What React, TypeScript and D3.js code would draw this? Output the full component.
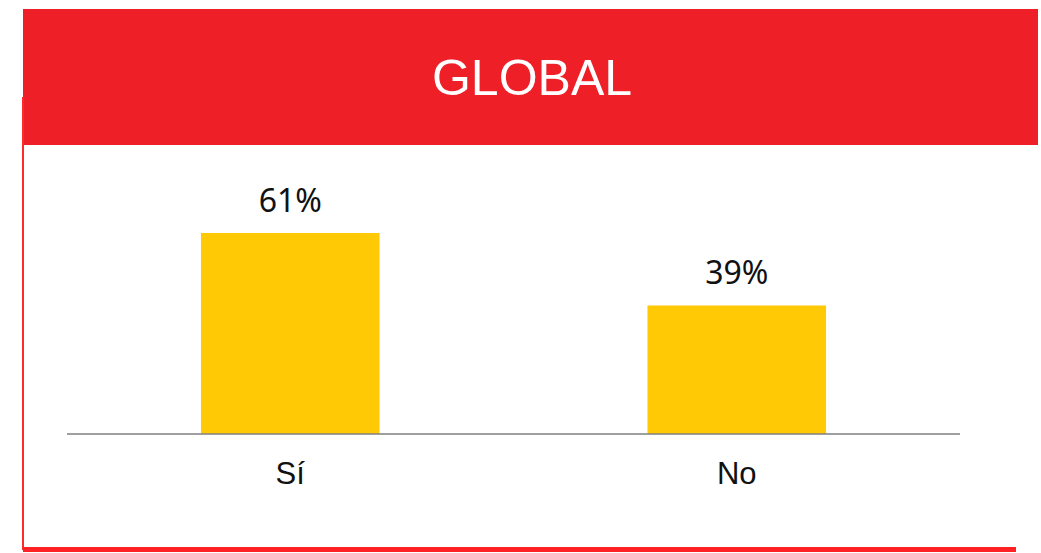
import React from "react";
import * as d3 from "d3";

const categories = ["Sí", "No"];
const values = [61, 39];
const valueLabels = ["61%", "39%"];
const title = "GLOBAL";

export default function App() {
  const W = 1041, H = 553;
  const x = d3.scaleBand<string>().domain(categories).range([67, 960]).paddingInner(0.6).paddingOuter(0.3);
  const y = d3.scaleLinear().domain([0, 61]).range([434, 233]);
  return (
    <svg width={W} height={H} style={{ position: "absolute", left: 0, top: 0 }}>
      <rect x={0} y={0} width={W} height={H} fill="#fff" />
      <rect x={23} y={9} width={1015} height={136} fill="#EE1F27" />
      <line x1={23} y1={97} x2={23} y2={550} stroke="#FF2A2A" strokeWidth={2} />
      <rect x={23} y={547} width={993} height={5} fill="#FF2124" />
      <text x={532} y={95} textAnchor="middle" fill="#fff" fontFamily="Liberation Sans, Arial, sans-serif" fontSize={50}>{title}</text>
      {categories.map((c, i) => (
        <g key={c}>
          <rect x={x(c)} y={y(values[i])} width={x.bandwidth()} height={434 - y(values[i])} fill="#FFC906" />
          <text x={(x(c) ?? 0) + x.bandwidth() / 2} y={y(values[i]) - 21} textAnchor="middle" fill="#111" fontFamily="Noto Sans, sans-serif" fontSize={32}>{valueLabels[i]}</text>
          <text x={(x(c) ?? 0) + x.bandwidth() / 2} y={484} textAnchor="middle" fill="#111" fontFamily="Liberation Sans, Arial, sans-serif" fontSize={31}>{c}</text>
        </g>
      ))}
      <line x1={67} y1={434} x2={960} y2={434} stroke="#7F7F7F" strokeWidth={1.5} />
    </svg>
  );
}
